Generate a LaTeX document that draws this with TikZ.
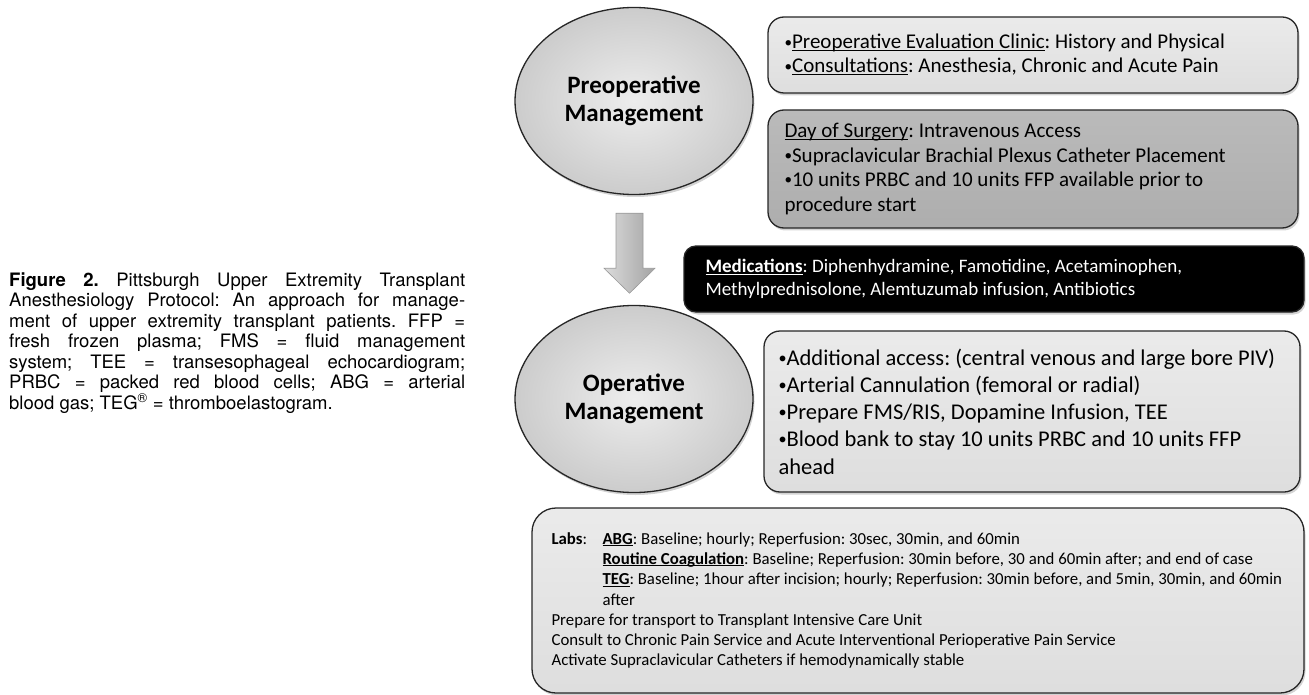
\documentclass[tikz,border=0pt]{standalone}
\usepackage{fontspec}
\setmainfont{Carlito}
\newfontfamily\capfont{TeX Gyre Heros}
\usetikzlibrary{shapes.geometric,shadows,calc}
\frenchspacing
\newcommand\myul[1]{\setbox0\hbox{#1}\rlap{\rule[-0.12em]{\wd0}{0.06em}}\box0}
\newcommand\bul{\raisebox{0.09em}{\scalebox{0.72}{•}}}
\newcommand\capline[1]{\makebox[456pt][s]{#1}}
\begin{document}
\begin{tikzpicture}[x=1pt,y=-1pt,
  shad/.style={drop shadow={opacity=0.35,shadow xshift=1.5pt,shadow yshift=-2.5pt}},
  ell/.style={ellipse,draw=black!85,line width=1.3pt,inner sep=0pt,
    minimum width=238pt,minimum height=187pt,inner color=black!7,outer color=black!20,shad,
    align=center,font=\fontsize{25}{27.5}\selectfont\bfseries},
  box/.style={rectangle,rounded corners=16pt,draw=black!85,line width=1.3pt,inner sep=0pt,shad},
  lightbox/.style={box,top color=black!8,bottom color=black!13},
  darkbox/.style={box,top color=black!27,bottom color=black!32},
  blackbox/.style={box,fill=black,rounded corners=12pt},
  txt/.style={inner sep=0pt,align=left,anchor=west},
  captxt/.style={inner sep=0pt,anchor=base west,font=\capfont\fontsize{18.5}{20.5}\selectfont}
]
\useasboundingbox (0,0) rectangle (1309,695);

% ellipses
\node[ell] (pre) at (634,101) {Preoperative\\Management};
\node[ell] (op) at (634,399) {Operative\\Management};

% boxes
\node[lightbox,minimum width=530pt,minimum height=76pt] (b1) at (1033,55) {};
\node[darkbox,minimum width=530pt,minimum height=118pt] (b2) at (1033,169) {};
\node[blackbox,minimum width=620pt,minimum height=66pt] (med) at (994,279) {};
\node[lightbox,minimum width=536pt,minimum height=161pt] (b3) at (1032,411.5) {};
\node[lightbox,rounded corners=24pt,minimum width=772pt,minimum height=185pt] (b4) at (918,600.5) {};

% texts
\node[txt,font=\fontsize{21}{24}\selectfont] (t1) at ([xshift=17pt]b1.west)
  {\bul\myul{Preoperative Evaluation Clinic}: History and Physical\\
   \bul\myul{Consultations}: Anesthesia, Chronic and Acute Pain};
\node[txt,font=\fontsize{21}{24.5}\selectfont] (t2) at ([xshift=17pt]b2.west)
  {\myul{Day of Surgery}: Intravenous Access\\
   \bul Supraclavicular Brachial Plexus Catheter Placement\\
   \bul 10 units PRBC and 10 units FFP available prior to\\
   procedure start};
\node[txt,text=white,font=\fontsize{19}{23}\selectfont] (t3) at ([xshift=22pt]med.west)
  {\textbf{\myul{Medications}}: Diphenhydramine, Famotidine, Acetaminophen,\\
   Methylprednisolone, Alemtuzumab infusion, Antibiotics};
\node[txt,font=\fontsize{22.5}{27.3}\selectfont] (t4) at ([xshift=15pt]b3.west)
  {\bul Additional access: (central venous and large bore PIV)\\
   \bul Arterial Cannulation (femoral or radial)\\
   \bul Prepare FMS/RIS, Dopamine Infusion, TEE\\
   \bul Blood bank to stay 10 units PRBC and 10 units FFP\\
   ahead};
\node[txt,font=\fontsize{16.8}{20.3}\selectfont] (t5) at ([xshift=20pt]b4.west)
  {\makebox[51pt][l]{\textbf{Labs}:}\textbf{\myul{ABG}}: Baseline; hourly; Reperfusion: 30sec, 30min, and 60min\\
   \hspace*{51pt}\textbf{\myul{Routine Coagulation}}: Baseline; Reperfusion: 30min before, 30 and 60min after; and end of case\\
   \hspace*{51pt}\textbf{\myul{TEG}}: Baseline; 1hour after incision; hourly; Reperfusion: 30min before, and 5min, 30min, and 60min\\
   \hspace*{51pt}after\\
   Prepare for transport to Transplant Intensive Care Unit\\
   Consult to Chronic Pain Service and Acute Interventional Perioperative Pain Service\\
   Activate Supraclavicular Catheters if hemodynamically stable};

% block arrow between the two ellipses
\coordinate (ar) at ($(pre.south)!0.5!(op.north)+(-4.5,3.25)$);
\begin{scope}[shift={(ar)}]
  \shade[left color=black!14,right color=black!36,draw=black!40,line width=0.6pt]
    (-13.5,-40) -- (13.5,-40) -- (13.5,15) -- (25.5,15) -- (0,40) -- (-25.5,15) -- (-13.5,15) -- cycle;
\end{scope}

% caption
\node[captxt] (c1) at (9,286) {\capline{{\bfseries Figure 2.} Pittsburgh Upper Extremity Transplant}};
\node[captxt] (c2) at (9,306.5) {\capline{Anesthesiology Protocol: An approach for manage-}};
\node[captxt] (c3) at (9,327) {\capline{ment of upper extremity transplant patients. FFP =}};
\node[captxt] (c4) at (9,347.5) {\capline{fresh frozen plasma; FMS = fluid management}};
\node[captxt] (c5) at (9,368) {\capline{system; TEE = transesophageal echocardiogram;}};
\node[captxt] (c6) at (9,388.5) {\capline{PRBC = packed red blood cells; ABG = arterial}};
\node[captxt] (c7) at (9,409) {blood gas; TEG\textsuperscript{®} = thromboelastogram.};
\end{tikzpicture}
\end{document}
